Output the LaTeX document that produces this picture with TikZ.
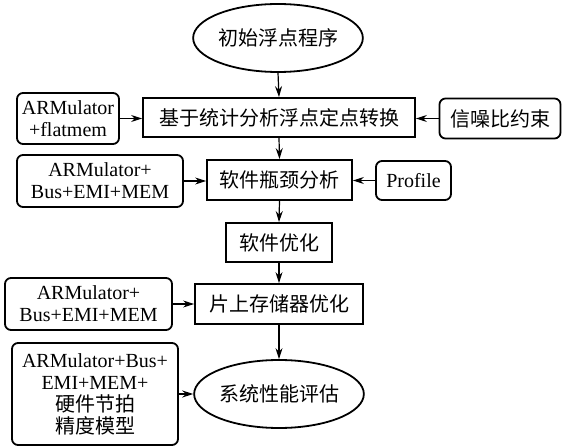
\documentclass[tikz,border=0pt]{standalone}
\usepackage{fontspec}
\setmainfont{Liberation Serif}
\newfontfamily\cjk{Noto Sans CJK SC}
\usetikzlibrary{shapes.geometric,arrows.meta}
\begin{document}
\begin{tikzpicture}[x=1pt,y=-1pt,
  base/.style={draw,line width=1.8pt,inner sep=0pt,align=center,font=\fontsize{20}{22}\selectfont},
  sbox/.style={base,rectangle},
  rbox/.style={base,rectangle,rounded corners=6pt},
  ell/.style={base,ellipse},
  arr/.style={line width=1.2pt,-{Stealth[length=11pt,width=7pt]}}]
\useasboundingbox (0,0) rectangle (562,446);
\node[ell,minimum width=153pt,minimum height=68pt] (start) at (278,38) {\cjk 初始浮点程序};
\node[sbox,minimum width=272pt,minimum height=39pt] (conv) at (279,117.5) {\cjk 基于统计分析浮点定点转换};
\node[rbox,minimum width=102pt,minimum height=51pt] (lf) at (68,118.5) {ARMulator\\+flatmem};
\node[rbox,minimum width=121pt,minimum height=40pt] (snr) at (500,118.5) {\cjk 信噪比约束};
\node[sbox,minimum width=145pt,minimum height=40pt] (bott) at (279.5,180) {\cjk 软件瓶颈分析};
\node[rbox,minimum width=166pt,minimum height=52pt] (l2) at (100,181) {ARMulator+\\Bus+EMI+MEM};
\node[rbox,minimum width=75pt,minimum height=39pt] (prof) at (413.5,180.5) {Profile};
\node[sbox,minimum width=106pt,minimum height=39pt] (sopt) at (279,242.5) {\cjk 软件优化};
\node[sbox,minimum width=168pt,minimum height=40pt] (mem) at (279,304) {\cjk 片上存储器优化};
\node[rbox,minimum width=167pt,minimum height=52pt] (l3) at (88.5,304) {ARMulator+\\Bus+EMI+MEM};
\node[ell,minimum width=156pt,minimum height=68pt] (eval) at (279,394) {\cjk 系统性能评估};
\node[rbox,minimum width=166pt,minimum height=102pt] (l4) at (95,394) {ARMulator+Bus+\\EMI+MEM+\\{\cjk 硬件节拍}\\{\cjk 精度模型}};
\draw[arr] (start.south) -- (conv.north);
\draw[arr] (conv.south) -- (bott.north);
\draw[arr] (bott.south) -- (sopt.north);
\draw[arr] (sopt.south) -- (mem.north);
\draw[arr] (mem.south) -- (eval.north);
\draw[arr] (lf.east) -- (lf.east -| conv.west);
\draw[arr] (snr.west) -- (snr.west -| conv.east);
\draw[arr] (l2.east) -- (l2.east -| bott.west);
\draw[arr] (prof.west) -- (prof.west -| bott.east);
\draw[arr] (l3.east) -- (l3.east -| mem.west);
\draw[arr] (l4.east) -- (eval.west);
\end{tikzpicture}
\end{document}
